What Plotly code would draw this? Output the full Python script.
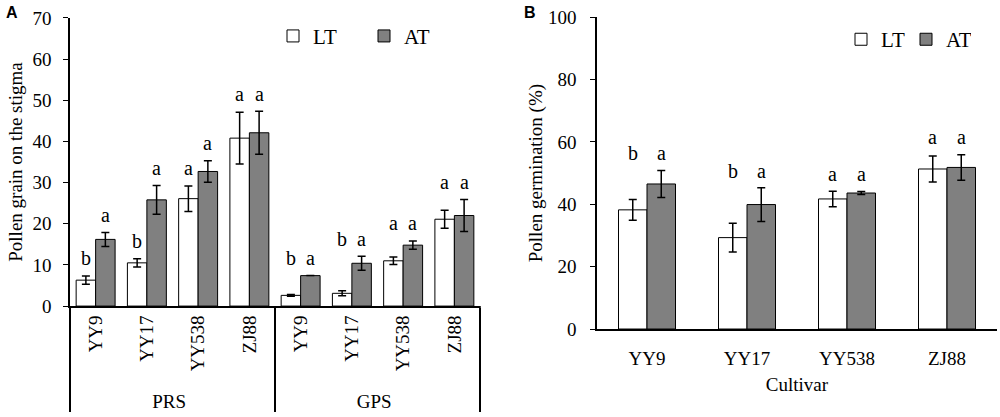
import plotly.graph_objects as go

# panel A: pollen grains on the stigma
groups_a = ["PRS"] * 4 + ["GPS"] * 4
cultivars_a = ["YY9", "YY17", "YY538", "ZJ88"] * 2
lt_a = [6.3, 10.5, 26.1, 40.8, 2.6, 3.1, 11.0, 21.1]
lt_a_err = [1.0, 1.0, 3.1, 6.3, 0.2, 0.6, 0.9, 2.2]
at_a = [16.2, 25.8, 32.7, 42.1, 7.4, 10.4, 14.8, 22.0]
at_a_err = [1.7, 3.5, 2.6, 5.2, 0.0, 1.7, 1.0, 3.9]
lt_a_sig = ["b", "b", "a", "a", "b", "b", "a", "a"]
at_a_sig = ["a", "a", "a", "a", "a", "a", "a", "a"]

# panel B: pollen germination
cultivars_b = ["YY9", "YY17", "YY538", "ZJ88"]
lt_b = [38.2, 29.3, 41.7, 51.3]
lt_b_err = [3.3, 4.6, 2.5, 4.2]
at_b = [46.5, 39.9, 43.6, 51.8]
at_b_err = [4.3, 5.4, 0.5, 4.1]
lt_b_sig = ["b", "b", "a", "a"]
at_b_sig = ["a", "a", "a", "a"]

FONT = "Liberation Serif"
GREY = "#808080"

fig = go.Figure()

def bar(x, y, err, name, color, xa, ya, legend, offset, width):
    return go.Bar(
        x=x, y=y, name=name, xaxis=xa, yaxis=ya, legend=legend,
        offset=offset, width=width,
        marker=dict(color=color, line=dict(color="black", width=1)),
        error_y=dict(type="data", array=err, color="black", thickness=1.5, width=4),
    )

xa = [groups_a, cultivars_a]
wa = 0.38
fig.add_trace(bar(xa, lt_a, lt_a_err, "LT", "white", "x", "y", "legend", -wa, wa))
fig.add_trace(bar(xa, at_a, at_a_err, "AT", GREY, "x", "y", "legend", 0, wa))

wb = 0.285
fig.add_trace(bar(cultivars_b, lt_b, lt_b_err, "LT", "white", "x2", "y2", "legend2", -wb, wb))
fig.add_trace(bar(cultivars_b, at_b, at_b_err, "AT", GREY, "x2", "y2", "legend2", 0, wb))

letter_font = dict(family=FONT, size=20, color="black")
notes = []

def sig_note(xref, yref, x, y, text):
    notes.append(dict(text=text, x=x, y=y, xref=xref, yref=yref, showarrow=False,
                      xanchor="center", yanchor="middle", font=letter_font))

# letters: PRS over each bar, GPS at the level of the pair
for i, g in enumerate(groups_a):
    lt_top = lt_a[i] + lt_a_err[i]
    at_top = at_a[i] + at_a_err[i]
    if g == "PRS":
        hl, ha = lt_top + 4.3, at_top + 4.3
    else:
        hl = ha = max(lt_top, at_top) + 4.3
    sig_note("x", "y", i - wa / 2, hl, lt_a_sig[i])
    sig_note("x", "y", i + wa / 2, ha, at_a_sig[i])

for i in range(len(cultivars_b)):
    h = max(lt_b[i] + lt_b_err[i], at_b[i] + at_b_err[i]) + 5.5
    sig_note("x2", "y2", i - wb / 2, h, lt_b_sig[i])
    sig_note("x2", "y2", i + wb / 2, h, at_b_sig[i])

for txt, xpos in [("A", 0.004), ("B", 0.522)]:
    notes.append(dict(text="<b>%s</b>" % txt, x=xpos, y=0.995, xref="paper", yref="paper",
                      xanchor="left", yanchor="top", showarrow=False,
                      font=dict(family="Liberation Sans", size=16, color="black")))

axis_font = dict(family=FONT, size=19, color="black")
legend_style = dict(
    orientation="h", xanchor="left", yanchor="middle",
    entrywidthmode="pixels", itemwidth=30,
    font=dict(family=FONT, size=21, color="black"), bgcolor="rgba(0,0,0,0)",
)

fig.update_layout(
    width=1000, height=417,
    margin=dict(l=0, r=0, t=0, b=0, autoexpand=False),
    plot_bgcolor="white", paper_bgcolor="white",
    barmode="overlay",
    font=axis_font,
    xaxis=dict(
        domain=[0.07, 0.48], anchor="y", type="multicategory",
        showline=True, linecolor="black", linewidth=1.5,
        showdividers=True, dividercolor="black", dividerwidth=1.5,
        ticks="", tickangle=-90, tickfont=axis_font, showgrid=False,
    ),
    yaxis=dict(
        domain=[0.266, 0.957], anchor="x", range=[0, 70], dtick=10,
        showline=True, linecolor="black", linewidth=1.5,
        ticks="outside", ticklen=5, tickcolor="black", ticklabelstandoff=8,
        showgrid=False, zeroline=False, tickfont=axis_font,
        title=dict(text="Pollen grain on the stigma", font=axis_font, standoff=5),
    ),
    xaxis2=dict(
        domain=[0.597, 0.997], anchor="y2",
        showline=True, linecolor="black", linewidth=1.5,
        ticks="", tickfont=axis_font, showgrid=False, ticklabelstandoff=11,
        title=dict(text="Cultivar", font=axis_font, standoff=10),
    ),
    yaxis2=dict(
        domain=[0.211, 0.959], anchor="x2", range=[0, 100], dtick=20,
        showline=True, linecolor="black", linewidth=1.5,
        ticks="outside", ticklen=5, tickcolor="black", ticklabelstandoff=10,
        showgrid=False, zeroline=False, tickfont=axis_font,
        title=dict(text="Pollen germination (%)", font=axis_font, standoff=0),
    ),
    legend=dict(x=0.273, y=0.913, entrywidth=46, **legend_style),
    legend2=dict(x=0.841, y=0.905, entrywidth=20, **legend_style),
    annotations=notes,
    # closing line at the right end of the grouped category axis
    shapes=[dict(type="line", xref="x domain", yref="paper", x0=1, x1=1,
                 y0=0.266, y1=0.012, line=dict(color="black", width=1.5))],
)

fig.write_html("out.html", config={"displayModeBar": False},
               post_script="document.body.style.margin = '0';")
